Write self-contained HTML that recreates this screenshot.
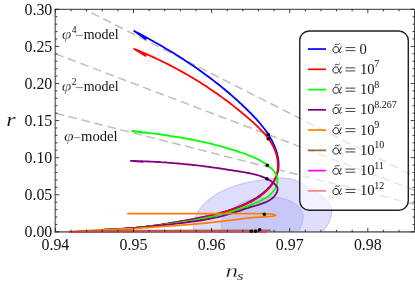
<!DOCTYPE html><html><head><meta charset="utf-8"><style>html,body{margin:0;padding:0;background:#fff}svg{display:block}text{font-family:"Liberation Serif",serif;fill:#111}</style></head><body>
<svg width="415" height="286" viewBox="0 0 415 286" style="will-change:transform;transform:translateZ(0)">
<rect width="415" height="286" fill="#fff"/>
<defs><clipPath id="c"><rect x="55.3" y="9.3" width="359.3" height="222.54999999999998"/></clipPath></defs>
<g clip-path="url(#c)">
<path d="M196.0,245.0 195.6,243.5 195.2,241.9 194.8,240.3 194.5,238.6 194.1,236.9 193.9,235.2 193.6,233.5 193.4,231.8 193.3,230.1 193.3,228.4 193.3,226.7 193.4,225.0 193.6,223.4 193.9,221.7 194.4,220.1 194.8,218.6 195.4,217.0 196.1,215.5 196.8,214.0 197.7,212.6 198.5,211.1 199.5,209.8 200.5,208.4 201.6,207.1 202.7,205.8 203.8,204.6 205.0,203.4 206.2,202.2 207.4,201.1 208.7,200.0 210.0,198.9 211.3,197.9 212.6,196.9 214.0,196.0 215.3,195.1 216.7,194.2 218.1,193.3 219.6,192.5 221.0,191.7 222.5,191.0 224.0,190.3 225.5,189.6 227.0,188.9 228.5,188.3 230.1,187.7 231.7,187.1 233.2,186.5 234.8,186.0 236.4,185.5 238.0,185.0 239.6,184.5 241.3,184.1 242.9,183.6 244.5,183.2 246.2,182.8 247.9,182.5 249.5,182.1 251.2,181.8 252.9,181.5 254.5,181.2 256.2,180.9 257.9,180.6 259.6,180.3 261.3,180.1 263.0,179.8 264.6,179.6 266.3,179.4 268.0,179.2 269.7,179.0 271.4,178.8 273.0,178.6 274.7,178.4 276.4,178.3 278.0,178.2 279.7,178.1 281.3,178.1 282.9,178.1 284.5,178.2 286.1,178.3 287.7,178.5 289.3,178.7 290.9,179.0 292.4,179.4 293.9,179.8 295.4,180.4 296.9,181.0 298.4,181.7 299.9,182.4 301.4,183.2 302.9,184.0 304.3,184.9 305.8,185.8 307.3,186.7 308.8,187.5 310.4,188.4 311.9,189.3 313.5,190.2 315.0,191.2 316.6,192.1 318.1,193.0 319.5,194.0 321.0,195.0 322.3,196.0 323.6,197.1 324.9,198.2 326.1,199.4 327.2,200.6 328.2,201.8 329.0,203.2 329.8,204.5 330.5,206.0 331.0,207.4 331.3,209.0 331.5,210.5 331.6,212.0 331.5,213.6 331.3,215.2 330.9,216.8 330.4,218.3 329.9,219.9 329.2,221.5 328.4,223.0 327.6,224.5 326.7,226.1 325.7,227.5 324.7,229.0 323.6,230.4 322.6,231.7 321.5,233.0 320.3,234.3 319.2,235.5 318.0,236.7 316.9,237.9 315.7,239.1 314.6,240.3 313.4,241.4 312.3,242.6 311.2,243.8 310.0,245.0Z" fill="#dedefc" stroke="#c6c6fa" stroke-width="1.2"/>
<path d="M226.0,245.0 225.5,243.9 225.1,242.9 224.7,241.8 224.3,240.8 224.0,239.8 223.7,238.8 223.5,237.7 223.3,236.7 223.1,235.6 222.9,234.6 222.7,233.5 222.5,232.4 222.3,231.3 222.1,230.1 221.9,229.0 221.7,227.8 221.6,226.6 221.5,225.4 221.4,224.3 221.5,223.1 221.6,222.1 221.8,221.0 222.1,220.0 222.5,219.0 223.0,218.1 223.5,217.2 224.1,216.3 224.7,215.4 225.4,214.6 226.2,213.8 227.0,213.0 227.8,212.3 228.6,211.5 229.5,210.8 230.3,210.1 231.2,209.5 232.1,208.8 233.0,208.2 233.9,207.5 234.9,206.9 235.8,206.4 236.8,205.8 237.7,205.2 238.7,204.7 239.7,204.2 240.7,203.7 241.7,203.2 242.7,202.8 243.7,202.3 244.7,201.9 245.8,201.5 246.8,201.1 247.8,200.8 248.9,200.4 250.0,200.1 251.0,199.8 252.1,199.5 253.2,199.2 254.3,198.9 255.3,198.7 256.4,198.4 257.5,198.2 258.6,198.1 259.7,197.9 260.8,197.7 261.9,197.6 263.0,197.5 264.1,197.4 265.3,197.3 266.4,197.2 267.5,197.2 268.6,197.1 269.7,197.1 270.8,197.1 271.9,197.2 273.0,197.2 274.1,197.3 275.2,197.3 276.3,197.4 277.4,197.6 278.5,197.7 279.6,197.9 280.7,198.1 281.8,198.3 282.8,198.5 283.9,198.8 284.9,199.1 286.0,199.4 287.0,199.8 288.0,200.2 289.0,200.6 290.0,201.1 291.0,201.5 291.9,202.1 292.9,202.6 293.8,203.2 294.7,203.9 295.6,204.6 296.5,205.3 297.3,206.0 298.2,206.8 298.9,207.6 299.6,208.5 300.3,209.4 300.9,210.3 301.5,211.2 301.9,212.2 302.3,213.1 302.7,214.1 302.9,215.2 303.0,216.2 303.1,217.3 303.0,218.3 302.9,219.4 302.6,220.5 302.4,221.6 302.0,222.7 301.7,223.8 301.3,224.9 300.8,226.0 300.4,227.1 299.9,228.2 299.5,229.2 299.0,230.3 298.6,231.3 298.2,232.4 297.9,233.4 297.5,234.4 297.2,235.4 296.8,236.3 296.4,237.3 296.0,238.3 295.6,239.2 295.1,240.2 294.6,241.1 294.1,242.1 293.4,243.1 292.7,244.0 292.0,245.0Z" fill="#c8c8f8" stroke="#b9b9f6" stroke-width="1.2"/>
<line x1="55.4" y1="-5.5" x2="445.9" y2="192.3" stroke="#bebebe" stroke-width="1.5" stroke-dasharray="8.7,4.7"/>
<line x1="55.4" y1="53.8" x2="445.9" y2="202.2" stroke="#bebebe" stroke-width="1.5" stroke-dasharray="8.7,4.7"/>
<line x1="55.4" y1="113.2" x2="445.9" y2="212.1" stroke="#bebebe" stroke-width="1.5" stroke-dasharray="8.7,4.7"/>
</g>
<path d="M146.3,39.4L134.2,31.0 136.5,32.2 138.8,33.4 141.0,34.6 143.3,35.8 145.6,37.0 147.8,38.2 150.0,39.5 152.3,40.7 154.5,42.0 156.7,43.2 159.0,44.5 161.2,45.8 163.4,47.1 165.6,48.4 167.8,49.7 170.0,51.0 172.1,52.3 174.3,53.6 176.5,55.0 178.7,56.3 180.8,57.7 183.0,59.1 185.1,60.5 187.2,61.9 189.3,63.3 191.5,64.7 193.6,66.1 195.7,67.6 197.8,69.0 199.8,70.5 201.9,72.0 204.0,73.5 206.0,75.0 208.1,76.5 210.1,78.0 212.1,79.5 214.2,81.1 216.2,82.7 218.2,84.2 220.2,85.8 222.1,87.4 224.1,89.0 226.1,90.7 228.0,92.3 230.0,94.0 231.9,95.6 233.8,97.3 235.7,99.0 237.6,100.7 239.5,102.5 241.4,104.2 243.2,106.0 245.1,107.7 246.9,109.5 248.7,111.3 250.6,113.1 252.3,115.0 254.1,116.8 255.9,118.7 257.6,120.6 259.3,122.5 260.9,124.5 262.5,126.5 264.1,128.5 265.6,130.5 267.1,132.6 268.5,134.8 269.8,137.0 271.1,139.2 272.3,141.4 273.4,143.8 274.5,146.1 275.4,148.5 276.3,151.0 277.0,153.4 277.6,155.9 278.1,158.4 278.4,160.9 278.6,163.4 278.6,165.9 278.4,168.4 278.0,170.8 277.4,173.2 276.6,175.5 275.6,177.8 274.5,180.0 273.2,182.2 271.7,184.3 270.1,186.3 268.4,188.2 266.6,190.0 264.6,191.7 262.6,193.4 260.6,194.9 258.4,196.4 256.2,197.9 254.0,199.2 251.8,200.5 249.5,201.8 247.2,203.0 244.9,204.1 242.6,205.1 240.3,206.2 237.9,207.1 235.5,208.1 233.2,208.9 230.8,209.8 228.3,210.6 225.9,211.3 223.5,212.0 221.0,212.7 218.6,213.4 216.1,214.0 213.6,214.6 211.2,215.2 208.7,215.8 206.2,216.3 203.7,216.9 201.2,217.4 198.7,217.9 196.2,218.4 193.7,218.9 191.2,219.3 188.6,219.8 186.1,220.3 183.6,220.8 181.1,221.2 178.6,221.7 176.1,222.1 173.6,222.5 171.0,223.0 168.5,223.4 166.0,223.8 163.5,224.2 161.0,224.6 158.4,224.9 155.9,225.3 153.4,225.7 150.9,226.0 148.3,226.3 145.8,226.7 143.3,227.0 140.7,227.3 138.2,227.5 135.7,227.8 133.1,228.1 130.6,228.3 128.1,228.5 125.5,228.7 123.0,228.9 120.4,229.1 117.9,229.2 115.3,229.4 112.8,229.5 110.2,229.6 107.7,229.7 105.1,229.7 102.5,229.8 100.0,229.8" fill="none" stroke="#0000ff" stroke-width="1.8" stroke-linejoin="round"/>
<path d="M146.1,56.3L134.2,49.0 136.6,49.9 138.9,50.9 141.2,51.9 143.5,52.8 145.8,53.8 148.1,54.8 150.4,55.9 152.6,56.9 154.9,57.9 157.1,59.0 159.4,60.0 161.6,61.1 163.8,62.2 166.1,63.3 168.3,64.4 170.5,65.6 172.6,66.7 174.8,67.8 177.0,69.0 179.2,70.2 181.3,71.4 183.5,72.6 185.6,73.8 187.7,75.0 189.9,76.2 192.0,77.5 194.1,78.8 196.2,80.0 198.3,81.3 200.4,82.6 202.4,84.0 204.5,85.3 206.6,86.6 208.6,88.0 210.7,89.4 212.7,90.8 214.7,92.2 216.8,93.6 218.8,95.0 220.8,96.4 222.8,97.9 224.8,99.4 226.8,100.8 228.8,102.3 230.7,103.8 232.7,105.4 234.7,106.9 236.6,108.5 238.6,110.0 240.5,111.6 242.4,113.2 244.4,114.8 246.3,116.4 248.2,118.1 250.1,119.7 252.0,121.4 253.9,123.1 255.8,124.8 257.6,126.5 259.4,128.3 261.1,130.1 262.8,131.9 264.5,133.7 266.1,135.6 267.6,137.5 269.0,139.5 270.4,141.5 271.6,143.6 272.8,145.7 273.9,147.8 274.8,150.0 275.7,152.3 276.4,154.6 277.0,157.0 277.4,159.4 277.7,161.9 277.9,164.4 277.9,166.9 277.7,169.4 277.4,171.8 276.9,174.3 276.1,176.6 275.2,179.0 274.2,181.2 272.9,183.3 271.5,185.4 269.9,187.4 268.2,189.2 266.4,191.0 264.5,192.7 262.6,194.3 260.6,195.9 258.6,197.3 256.5,198.6 254.4,199.9 252.3,201.1 250.1,202.2 247.9,203.3 245.6,204.3 243.4,205.3 241.1,206.2 238.8,207.1 236.5,208.0 234.2,208.8 231.8,209.6 229.5,210.4 227.1,211.1 224.8,211.9 222.4,212.5 220.0,213.2 217.6,213.9 215.2,214.5 212.8,215.1 210.4,215.7 208.0,216.2 205.6,216.8 203.1,217.3 200.7,217.9 198.3,218.4 195.8,218.9 193.4,219.3 191.0,219.8 188.5,220.3 186.1,220.7 183.6,221.2 181.2,221.6 178.8,222.0 176.3,222.4 173.9,222.8 171.4,223.2 169.0,223.6 166.5,224.0 164.1,224.4 161.6,224.7 159.2,225.0 156.7,225.4 154.3,225.7 151.8,226.0 149.4,226.3 146.9,226.6 144.5,226.9 142.0,227.1 139.5,227.4 137.1,227.6 134.6,227.8 132.2,228.1 129.7,228.3 127.2,228.5 124.8,228.7 122.3,228.8 119.8,229.0 117.3,229.2 114.9,229.3 112.4,229.4 109.9,229.5 107.4,229.6 104.9,229.7 102.5,229.8 100.0,229.9" fill="none" stroke="#ff0000" stroke-width="1.8" stroke-linejoin="round"/>
<path d="M143.8,132.9L132.2,131.0 134.4,131.2 136.6,131.5 138.8,131.7 141.0,132.0 143.2,132.3 145.4,132.5 147.6,132.8 149.8,133.1 152.0,133.3 154.2,133.6 156.4,133.9 158.5,134.2 160.7,134.5 162.9,134.8 165.1,135.1 167.3,135.4 169.5,135.8 171.7,136.1 173.9,136.5 176.1,136.8 178.2,137.2 180.4,137.5 182.6,137.9 184.8,138.3 186.9,138.7 189.1,139.1 191.3,139.5 193.4,139.9 195.6,140.4 197.8,140.8 199.9,141.3 202.1,141.7 204.2,142.2 206.4,142.7 208.5,143.2 210.7,143.7 212.8,144.2 215.0,144.8 217.1,145.3 219.2,145.9 221.3,146.5 223.5,147.1 225.6,147.7 227.7,148.3 229.8,148.9 231.9,149.6 234.0,150.2 236.1,150.9 238.2,151.6 240.3,152.3 242.4,153.0 244.5,153.7 246.6,154.5 248.6,155.3 250.7,156.1 252.7,157.0 254.8,157.9 256.8,158.8 258.8,159.8 260.7,160.9 262.7,162.0 264.6,163.2 266.5,164.5 268.4,165.9 270.2,167.4 271.9,168.9 273.4,170.5 274.8,172.3 275.9,174.1 276.8,175.9 277.3,177.9 277.5,179.9 277.4,182.0 277.0,184.1 276.3,186.1 275.4,188.1 274.2,190.1 272.9,191.8 271.4,193.5 269.8,195.0 268.1,196.4 266.3,197.7 264.3,198.8 262.3,199.9 260.3,200.9 258.2,201.8 256.1,202.7 253.9,203.6 251.8,204.4 249.7,205.3 247.6,206.1 245.5,206.8 243.4,207.6 241.3,208.3 239.3,209.0 237.2,209.7 235.1,210.4 233.0,211.1 231.0,211.7 228.9,212.4 226.8,213.0 224.7,213.6 222.6,214.1 220.5,214.7 218.4,215.2 216.2,215.8 214.1,216.3 211.9,216.8 209.8,217.2 207.6,217.7 205.5,218.2 203.3,218.6 201.1,219.0 198.9,219.4 196.7,219.8 194.6,220.2 192.4,220.6 190.2,221.0 188.0,221.3 185.8,221.7 183.6,222.0 181.4,222.4 179.2,222.7 177.0,223.0 174.8,223.3 172.6,223.6 170.4,223.9 168.2,224.2 166.0,224.5 163.8,224.8 161.6,225.0 159.4,225.3 157.3,225.6 155.1,225.8 152.9,226.1 150.7,226.3 148.5,226.5 146.3,226.7 144.1,227.0 141.9,227.2 139.7,227.4 137.5,227.6 135.3,227.8 133.1,227.9 130.9,228.1 128.7,228.3 126.5,228.5 124.3,228.6 122.1,228.8 119.9,228.9 117.7,229.1 115.5,229.2 113.3,229.3 111.1,229.4 108.9,229.6 106.6,229.7 104.4,229.8 102.2,229.9 100.0,230.0" fill="none" stroke="#00ff00" stroke-width="1.8" stroke-linejoin="round"/>
<path d="M143.4,161.8L130.8,160.9 133.0,161.0 135.2,161.0 137.3,161.1 139.5,161.1 141.7,161.2 143.8,161.3 146.0,161.4 148.1,161.5 150.3,161.6 152.4,161.7 154.5,161.8 156.7,161.9 158.8,162.0 161.0,162.2 163.1,162.3 165.2,162.4 167.4,162.6 169.5,162.8 171.6,162.9 173.7,163.1 175.9,163.3 178.0,163.5 180.1,163.7 182.2,163.9 184.3,164.1 186.5,164.3 188.6,164.5 190.7,164.7 192.8,165.0 194.9,165.2 197.1,165.4 199.2,165.7 201.3,165.9 203.4,166.2 205.5,166.5 207.6,166.7 209.8,167.0 211.9,167.3 214.0,167.6 216.1,167.9 218.2,168.2 220.4,168.5 222.5,168.8 224.6,169.1 226.7,169.5 228.9,169.8 231.0,170.1 233.1,170.5 235.3,170.8 237.4,171.1 239.5,171.5 241.7,171.9 243.8,172.2 246.0,172.6 248.1,173.0 250.2,173.4 252.4,173.9 254.5,174.4 256.5,174.9 258.6,175.5 260.6,176.1 262.6,176.9 264.6,177.7 266.5,178.6 268.3,179.6 270.2,180.6 271.9,181.8 273.6,183.1 275.3,184.6 276.6,186.1 277.5,187.9 277.7,189.8 277.1,191.8 276.1,193.7 274.9,195.5 273.5,197.1 272.0,198.5 270.3,199.7 268.5,200.8 266.6,201.8 264.6,202.6 262.5,203.4 260.4,204.1 258.3,204.8 256.1,205.5 254.0,206.1 251.8,206.7 249.7,207.4 247.7,208.1 245.6,208.7 243.5,209.4 241.5,210.1 239.5,210.8 237.4,211.4 235.4,212.1 233.4,212.7 231.4,213.4 229.4,214.0 227.3,214.6 225.3,215.2 223.3,215.7 221.2,216.3 219.2,216.8 217.1,217.3 215.0,217.7 212.9,218.2 210.8,218.6 208.7,219.0 206.6,219.4 204.5,219.8 202.4,220.1 200.3,220.5 198.2,220.8 196.0,221.1 193.9,221.4 191.8,221.7 189.6,222.0 187.5,222.3 185.4,222.6 183.2,222.8 181.1,223.1 178.9,223.3 176.8,223.6 174.7,223.8 172.5,224.1 170.4,224.3 168.3,224.6 166.1,224.8 164.0,225.0 161.9,225.3 159.8,225.5 157.6,225.7 155.5,225.9 153.4,226.1 151.2,226.3 149.1,226.5 147.0,226.7 144.9,226.9 142.7,227.1 140.6,227.3 138.5,227.5 136.3,227.7 134.2,227.8 132.1,228.0 130.0,228.2 127.8,228.3 125.7,228.5 123.6,228.6 121.4,228.8 119.3,228.9 117.1,229.1 115.0,229.2 112.9,229.3 110.7,229.4 108.6,229.6 106.4,229.7 104.3,229.8 102.1,229.9 100.0,230.0" fill="none" stroke="#800080" stroke-width="1.8" stroke-linejoin="round"/>
<path d="M127.2,213.6 L262,213.6 C270,213.8 276,214.5 276,215.4 C276,216.2 268,216.6 258,217.2 C248,218 240,219 230,220.4 C215,222.3 200,223.8 188.5,224.7 C178,225.4 165,226.4 150,227.3 C144,227.7 139,228.2 133,228.6 C128,228.9 124,229.0 120,229.2 C113,229.5 107,229.7 100,229.9 C92,230.3 85,230.7 78,231.1 L69,231.7" fill="none" stroke="#ff8000" stroke-width="1.85"/>
<defs><linearGradient id="bg" gradientUnits="userSpaceOnUse" x1="69" y1="0" x2="150" y2="0"><stop offset="0" stop-color="#be2d5a"/><stop offset="1" stop-color="#bc4a6a"/></linearGradient></defs>
<path d="M55.3,9.3V232.65" stroke="#777" stroke-width="1.6" fill="none"/>
<path d="M54.5,231.85H414.6" stroke="#777" stroke-width="1.6" fill="none"/>
<path d="M54.5,9.3H414.6V231.85" stroke="#333" stroke-width="1.0" fill="none"/>
<line x1="263" y1="231.9" x2="267" y2="231.9" stroke="#e020e0" stroke-width="1.9"/>
<line x1="69" y1="231.9" x2="263.3" y2="231.9" stroke="url(#bg)" stroke-width="1.9"/>
<path d="M78,231 L140,230.4 L271,230.2" fill="none" stroke="#aa6937" stroke-width="1.4"/>
<path d="M55.40,231.85v-3.9M55.40,9.3v3.9M71.02,231.85v-2.1M71.02,9.3v2.1M86.64,231.85v-2.1M86.64,9.3v2.1M102.26,231.85v-2.1M102.26,9.3v2.1M117.88,231.85v-2.1M117.88,9.3v2.1M133.50,231.85v-3.9M133.50,9.3v3.9M149.12,231.85v-2.1M149.12,9.3v2.1M164.74,231.85v-2.1M164.74,9.3v2.1M180.36,231.85v-2.1M180.36,9.3v2.1M195.98,231.85v-2.1M195.98,9.3v2.1M211.60,231.85v-3.9M211.60,9.3v3.9M227.22,231.85v-2.1M227.22,9.3v2.1M242.84,231.85v-2.1M242.84,9.3v2.1M258.46,231.85v-2.1M258.46,9.3v2.1M274.08,231.85v-2.1M274.08,9.3v2.1M289.70,231.85v-3.9M289.70,9.3v3.9M305.32,231.85v-2.1M305.32,9.3v2.1M320.94,231.85v-2.1M320.94,9.3v2.1M336.56,231.85v-2.1M336.56,9.3v2.1M352.18,231.85v-2.1M352.18,9.3v2.1M367.80,231.85v-3.9M367.80,9.3v3.9M383.42,231.85v-2.1M383.42,9.3v2.1M399.04,231.85v-2.1M399.04,9.3v2.1M55.3,231.85h3.9M414.6,231.85h-3.9M55.3,224.43h2.1M414.6,224.43h-2.1M55.3,217.01h2.1M414.6,217.01h-2.1M55.3,209.60h2.1M414.6,209.60h-2.1M55.3,202.18h2.1M414.6,202.18h-2.1M55.3,194.76h3.9M414.6,194.76h-3.9M55.3,187.34h2.1M414.6,187.34h-2.1M55.3,179.92h2.1M414.6,179.92h-2.1M55.3,172.51h2.1M414.6,172.51h-2.1M55.3,165.09h2.1M414.6,165.09h-2.1M55.3,157.67h3.9M414.6,157.67h-3.9M55.3,150.25h2.1M414.6,150.25h-2.1M55.3,142.83h2.1M414.6,142.83h-2.1M55.3,135.42h2.1M414.6,135.42h-2.1M55.3,128.00h2.1M414.6,128.00h-2.1M55.3,120.58h3.9M414.6,120.58h-3.9M55.3,113.16h2.1M414.6,113.16h-2.1M55.3,105.74h2.1M414.6,105.74h-2.1M55.3,98.33h2.1M414.6,98.33h-2.1M55.3,90.91h2.1M414.6,90.91h-2.1M55.3,83.49h3.9M414.6,83.49h-3.9M55.3,76.07h2.1M414.6,76.07h-2.1M55.3,68.65h2.1M414.6,68.65h-2.1M55.3,61.24h2.1M414.6,61.24h-2.1M55.3,53.82h2.1M414.6,53.82h-2.1M55.3,46.40h3.9M414.6,46.40h-3.9M55.3,38.98h2.1M414.6,38.98h-2.1M55.3,31.56h2.1M414.6,31.56h-2.1M55.3,24.15h2.1M414.6,24.15h-2.1M55.3,16.73h2.1M414.6,16.73h-2.1M55.3,9.31h3.9M414.6,9.31h-3.9" stroke="#111" stroke-width="0.8" fill="none"/>
<circle cx="268.2" cy="134.6" r="1.75" fill="#000"/>
<circle cx="268.2" cy="138.8" r="1.75" fill="#000"/>
<circle cx="267.3" cy="165.2" r="1.75" fill="#000"/>
<circle cx="266.9" cy="178.8" r="1.75" fill="#000"/>
<circle cx="264.3" cy="214.2" r="1.75" fill="#000"/>
<circle cx="259.7" cy="229.7" r="1.75" fill="#000"/>
<circle cx="255.5" cy="231.3" r="1.75" fill="#000"/>
<circle cx="251.3" cy="231.3" r="1.75" fill="#000"/>
<text x="52.3" y="237.4" font-size="15.9" text-anchor="end">0.00</text>
<text x="52.3" y="200.4" font-size="15.9" text-anchor="end">0.05</text>
<text x="52.3" y="163.3" font-size="15.9" text-anchor="end">0.10</text>
<text x="52.3" y="126.2" font-size="15.9" text-anchor="end">0.15</text>
<text x="52.3" y="89.1" font-size="15.9" text-anchor="end">0.20</text>
<text x="52.3" y="52.0" font-size="15.9" text-anchor="end">0.25</text>
<text x="52.3" y="14.9" font-size="15.9" text-anchor="end">0.30</text>
<text x="55.4" y="249.6" font-size="15.9" text-anchor="middle">0.94</text>
<text x="133.5" y="249.6" font-size="15.9" text-anchor="middle">0.95</text>
<text x="211.6" y="249.6" font-size="15.9" text-anchor="middle">0.96</text>
<text x="289.7" y="249.6" font-size="15.9" text-anchor="middle">0.97</text>
<text x="367.8" y="249.6" font-size="15.9" text-anchor="middle">0.98</text>
<text transform="translate(6.3,125.6) scale(1.22,1)" font-size="19.6" font-style="italic" stroke="#fff" stroke-width="0.12">r</text>
<text transform="translate(225.4,276.6) scale(1.36,1)" font-size="18.5" font-style="italic" stroke="#fff" stroke-width="0.3">n</text>
<text transform="translate(237,279.7) scale(1.4,1)" font-size="12.1" font-style="italic" stroke="#fff" stroke-width="0.08">s</text>
<text transform="translate(61.8,38.6) scale(1.2,1)" font-size="14.6" font-style="italic" stroke="#fff" stroke-width="0.25">φ</text>
<text x="71.7" y="33.2" font-size="9.6">4</text>
<line x1="75.8" y1="35.4" x2="83" y2="35.4" stroke="#333" stroke-width="0.6"/>
<text x="83.7" y="38.6" font-size="14" textLength="34.89999999999999" lengthAdjust="spacingAndGlyphs">model</text>
<text transform="translate(61.8,90.8) scale(1.2,1)" font-size="14.6" font-style="italic" stroke="#fff" stroke-width="0.25">φ</text>
<text x="71.7" y="85.4" font-size="9.6">2</text>
<line x1="75.8" y1="87.6" x2="83" y2="87.6" stroke="#333" stroke-width="0.6"/>
<text x="83.7" y="90.8" font-size="14" textLength="34.89999999999999" lengthAdjust="spacingAndGlyphs">model</text>
<text transform="translate(64.1,140.8) scale(1.2,1)" font-size="14.6" font-style="italic" stroke="#fff" stroke-width="0.25">φ</text>
<line x1="74.3" y1="137.6" x2="80.2" y2="137.6" stroke="#333" stroke-width="0.6"/>
<text x="81" y="140.8" font-size="14" textLength="36.599999999999994" lengthAdjust="spacingAndGlyphs">model</text>
<rect x="299.75" y="31" width="108.55" height="179.2" rx="9.5" ry="9.5" fill="#fff" fill-opacity="0.62" stroke="#222" stroke-width="1.4"/>
<line x1="307.9" y1="49.05" x2="326" y2="49.05" stroke="#0000ff" stroke-width="1.7"/>
<path d="M341.19,46.70 C340.16,50.20 338.09,52.80 335.83,52.80 C333.86,52.80 332.92,51.50 332.92,49.90 C332.92,48.00 334.33,46.60 336.21,46.60 C338.47,46.60 338.84,49.80 339.41,51.70 C339.78,52.70 340.53,53.00 341.47,51.80" fill="none" stroke="#111" stroke-width="0.95" stroke-linecap="round"/>
<path d="M335,44.85 q1.1,-1.5 2.3,-0.6 q1.2,0.9 2.3,-0.6" fill="none" stroke="#111" stroke-width="0.75" stroke-linecap="round"/>
<path d="M345.5,47.60h9.8M345.5,50.65h9.8" stroke="#111" stroke-width="0.8"/>
<text x="359.6" y="53.5" font-size="14.6">0</text>
<line x1="307.9" y1="69.31" x2="326" y2="69.31" stroke="#ff0000" stroke-width="1.7"/>
<path d="M341.19,66.96 C340.16,70.46 338.09,73.06 335.83,73.06 C333.86,73.06 332.92,71.76 332.92,70.16 C332.92,68.26 334.33,66.86 336.21,66.86 C338.47,66.86 338.84,70.06 339.41,71.96 C339.78,72.96 340.53,73.26 341.47,72.06" fill="none" stroke="#111" stroke-width="0.95" stroke-linecap="round"/>
<path d="M335,65.11 q1.1,-1.5 2.3,-0.6 q1.2,0.9 2.3,-0.6" fill="none" stroke="#111" stroke-width="0.75" stroke-linecap="round"/>
<path d="M345.5,67.86h9.8M345.5,70.91h9.8" stroke="#111" stroke-width="0.8"/>
<text x="359.9" y="73.76" font-size="14.6">10</text>
<text x="374.2" y="67.26" font-size="10">7</text>
<line x1="307.9" y1="89.57" x2="326" y2="89.57" stroke="#00ff00" stroke-width="1.7"/>
<path d="M341.19,87.22 C340.16,90.72 338.09,93.32 335.83,93.32 C333.86,93.32 332.92,92.02 332.92,90.42 C332.92,88.52 334.33,87.12 336.21,87.12 C338.47,87.12 338.84,90.32 339.41,92.22 C339.78,93.22 340.53,93.52 341.47,92.32" fill="none" stroke="#111" stroke-width="0.95" stroke-linecap="round"/>
<path d="M335,85.37 q1.1,-1.5 2.3,-0.6 q1.2,0.9 2.3,-0.6" fill="none" stroke="#111" stroke-width="0.75" stroke-linecap="round"/>
<path d="M345.5,88.12h9.8M345.5,91.17h9.8" stroke="#111" stroke-width="0.8"/>
<text x="359.9" y="94.02" font-size="14.6">10</text>
<text x="374.2" y="87.52" font-size="10">8</text>
<line x1="307.9" y1="109.83" x2="326" y2="109.83" stroke="#800080" stroke-width="1.7"/>
<path d="M341.19,107.48 C340.16,110.98 338.09,113.58 335.83,113.58 C333.86,113.58 332.92,112.28 332.92,110.68 C332.92,108.78 334.33,107.38 336.21,107.38 C338.47,107.38 338.84,110.58 339.41,112.48 C339.78,113.48 340.53,113.78 341.47,112.58" fill="none" stroke="#111" stroke-width="0.95" stroke-linecap="round"/>
<path d="M335,105.63 q1.1,-1.5 2.3,-0.6 q1.2,0.9 2.3,-0.6" fill="none" stroke="#111" stroke-width="0.75" stroke-linecap="round"/>
<path d="M345.5,108.38h9.8M345.5,111.43h9.8" stroke="#111" stroke-width="0.8"/>
<text x="359.9" y="114.28" font-size="14.6">10</text>
<text x="374.2" y="107.78" font-size="10">8.267</text>
<line x1="307.9" y1="130.09" x2="326" y2="130.09" stroke="#ff8000" stroke-width="1.7"/>
<path d="M341.19,127.74 C340.16,131.24 338.09,133.84 335.83,133.84 C333.86,133.84 332.92,132.54 332.92,130.94 C332.92,129.04 334.33,127.64 336.21,127.64 C338.47,127.64 338.84,130.84 339.41,132.74 C339.78,133.74 340.53,134.04 341.47,132.84" fill="none" stroke="#111" stroke-width="0.95" stroke-linecap="round"/>
<path d="M335,125.89 q1.1,-1.5 2.3,-0.6 q1.2,0.9 2.3,-0.6" fill="none" stroke="#111" stroke-width="0.75" stroke-linecap="round"/>
<path d="M345.5,128.64h9.8M345.5,131.69h9.8" stroke="#111" stroke-width="0.8"/>
<text x="359.9" y="134.54" font-size="14.6">10</text>
<text x="374.2" y="128.04" font-size="10">9</text>
<line x1="307.9" y1="150.35" x2="326" y2="150.35" stroke="#996633" stroke-width="1.7"/>
<path d="M341.19,148.00 C340.16,151.50 338.09,154.10 335.83,154.10 C333.86,154.10 332.92,152.80 332.92,151.20 C332.92,149.30 334.33,147.90 336.21,147.90 C338.47,147.90 338.84,151.10 339.41,153.00 C339.78,154.00 340.53,154.30 341.47,153.10" fill="none" stroke="#111" stroke-width="0.95" stroke-linecap="round"/>
<path d="M335,146.15 q1.1,-1.5 2.3,-0.6 q1.2,0.9 2.3,-0.6" fill="none" stroke="#111" stroke-width="0.75" stroke-linecap="round"/>
<path d="M345.5,148.90h9.8M345.5,151.95h9.8" stroke="#111" stroke-width="0.8"/>
<text x="359.9" y="154.8" font-size="14.6">10</text>
<text x="374.2" y="148.30" font-size="10">10</text>
<line x1="307.9" y1="170.61" x2="326" y2="170.61" stroke="#ff00ff" stroke-width="1.7"/>
<path d="M341.19,168.26 C340.16,171.76 338.09,174.36 335.83,174.36 C333.86,174.36 332.92,173.06 332.92,171.46 C332.92,169.56 334.33,168.16 336.21,168.16 C338.47,168.16 338.84,171.36 339.41,173.26 C339.78,174.26 340.53,174.56 341.47,173.36" fill="none" stroke="#111" stroke-width="0.95" stroke-linecap="round"/>
<path d="M335,166.41 q1.1,-1.5 2.3,-0.6 q1.2,0.9 2.3,-0.6" fill="none" stroke="#111" stroke-width="0.75" stroke-linecap="round"/>
<path d="M345.5,169.16h9.8M345.5,172.21h9.8" stroke="#111" stroke-width="0.8"/>
<text x="359.9" y="175.06" font-size="14.6">10</text>
<text x="374.2" y="168.56" font-size="10">11</text>
<line x1="307.9" y1="190.87" x2="326" y2="190.87" stroke="#ff8080" stroke-width="1.7"/>
<path d="M341.19,188.52 C340.16,192.02 338.09,194.62 335.83,194.62 C333.86,194.62 332.92,193.32 332.92,191.72 C332.92,189.82 334.33,188.42 336.21,188.42 C338.47,188.42 338.84,191.62 339.41,193.52 C339.78,194.52 340.53,194.82 341.47,193.62" fill="none" stroke="#111" stroke-width="0.95" stroke-linecap="round"/>
<path d="M335,186.67 q1.1,-1.5 2.3,-0.6 q1.2,0.9 2.3,-0.6" fill="none" stroke="#111" stroke-width="0.75" stroke-linecap="round"/>
<path d="M345.5,189.42h9.8M345.5,192.47h9.8" stroke="#111" stroke-width="0.8"/>
<text x="359.9" y="195.32" font-size="14.6">10</text>
<text x="374.2" y="188.82" font-size="10">12</text>
</svg></body></html>
